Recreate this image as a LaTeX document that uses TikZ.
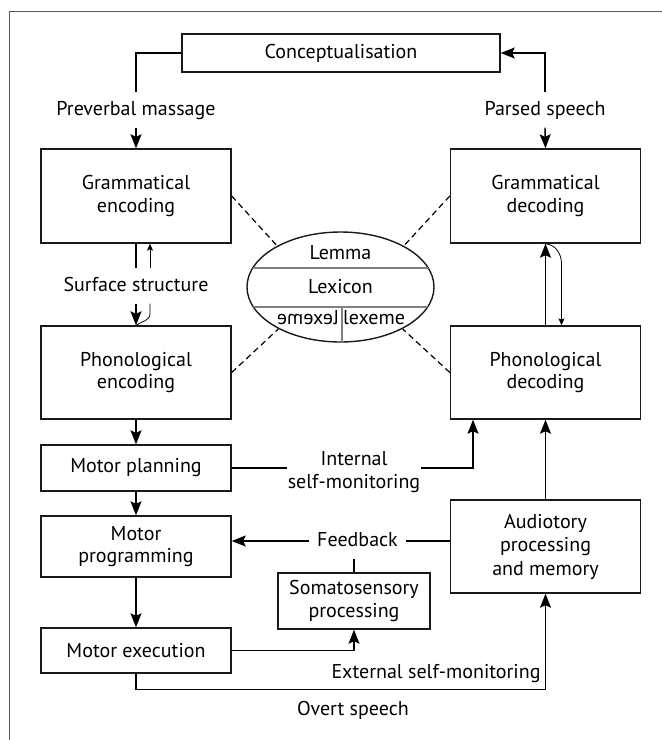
\documentclass[tikz,border=0pt]{standalone}
\usepackage{fontspec}
\setmainfont{PT Sans}
\usepackage{graphicx}
\usetikzlibrary{arrows.meta,positioning,shapes.geometric}

\begin{document}
\begin{tikzpicture}[x=1pt,y=1pt,>={Stealth[length=14pt,width=11pt,inset=2.5pt]},
  line width=1.4pt,
  box/.style={draw=black!90,line width=1.4pt,minimum width=190pt,align=center,font=\fontsize{20}{22.5}\selectfont,inner sep=0pt},
  lbl/.style={align=center,font=\fontsize{20}{22.5}\selectfont,text height=14pt,text depth=4pt,inner xsep=8pt,inner ysep=8pt},
  thinarr/.style={line width=0.8pt,-{Stealth[length=7pt,width=6pt,inset=1.5pt]}},
  thinline/.style={line width=0.8pt},
  dashline/.style={line width=1.2pt,dash pattern=on 6pt off 4pt},
  grayline/.style={line width=1.2pt,black!50},
  frame/.style={line width=1.6pt,black!65}]
\useasboundingbox (0,0) rectangle (662,-740);
\draw[frame] (9.5,-740) -- (9.5,-11.5) -- (662,-11.5);

% boxes
\node[box,minimum width=318pt,minimum height=38pt] (concept) at (341,-53) {Conceptualisation};
\node[box,minimum height=94pt] (genc) at (136,-196) {Grammatical\\encoding};
\node[box,minimum height=94pt] (gdec) at (545.5,-196) {Grammatical\\decoding};
\node[box,minimum height=93pt] (penc) at (136,-372.5) {Phonological\\encoding};
\node[box,minimum height=93pt] (pdec) at (545.5,-372.5) {Phonological\\decoding};
\node[box,minimum height=46pt] (mplan) at (136,-468) {Motor planning};
\node[box,minimum height=61pt] (mprog) at (136,-546.5) {Motor\\programming};
\node[box,minimum height=45pt] (mexec) at (136,-650.5) {Motor execution};
\node[box,minimum height=93pt,font=\fontsize{20}{23.5}\selectfont] (audit) at (545.5,-546.5) {Audiotory\\processing\\and memory};
\node[box,minimum width=152pt,minimum height=56pt] (soma) at (354,-601) {Somatosensory\\processing};
\node[box,ellipse,minimum width=187pt,minimum height=110pt] (lex) at (340.5,-287) {Lexicon};

% lexicon parts
\begin{scope}
\clip (lex.center) ellipse (93.5 and 55);
\draw[grayline] ([yshift=19pt]lex.west) -- ([yshift=19pt]lex.east);
\draw[grayline] ([yshift=-20pt]lex.west) -- ([yshift=-20pt]lex.east);
\draw[grayline] ([xshift=1.5pt,yshift=-20pt]lex.center) -- ([xshift=1.5pt]lex.south);
\end{scope}
\node[lbl] (lemma) at (340.5,-254) {Lemma};
\node[lbl] (lexl) at (308,-319) {\reflectbox{lexeme}};
\node[lbl] (lexr) at (374,-319) {lexeme};

% labels
\node[lbl] (lpre) at (136,-110) {Preverbal massage};
\node[lbl] (lpar) at (545,-110) {Parsed speech};
\node[lbl] (lsurf) at (136,-286) {Surface structure};
\node[lbl] (lfb) at (357.5,-541) {Feedback};
\node[lbl] (lext) at (436,-673) {External self-monitoring};
\node[lbl] (lovert) at (353,-710) {Overt speech};

% top
\draw (concept.west) -| (lpre.north);
\draw[->] (lpre.south) -- (genc.north);
\draw[->] (lpar.north) |- (concept.east);
\draw[->] (lpar.south) -- (gdec.north);

% encoding side
\draw (genc.south) -- (lsurf.north);
\draw[->] (lsurf.south) -- (penc.north);
\draw[thinarr] ([xshift=14pt]lsurf.north) -- ([xshift=14pt]genc.south);
\draw[thinline] (penc.north) to[out=35,in=-90] ([xshift=14pt,yshift=-10pt]lsurf.south) -- ([xshift=14pt]lsurf.south);
\draw[->] (penc.south) -- (mplan.north);
\draw[->] (mplan.south) -- (mprog.north);
\draw[->] (mprog.south) -- (mexec.north);

% decoding side
\draw[->] (pdec.north) -- (gdec.south);
\draw[thinarr] (gdec.south) to[out=-5,in=90] ([xshift=16pt,yshift=-20pt]gdec.south) -- ([xshift=16pt]pdec.north);
\draw[->] (audit.north) -- (pdec.south);

% lexicon links
\draw[dashline] (genc.east) -- (lex.147);
\draw[dashline] (gdec.west) -- (lex.33);
\draw[dashline] (penc.east) -- (lex.-146);
\draw[dashline] (pdec.west) -- (lex.-34);

% monitoring
\draw[->] (mplan.east) -| ([xshift=-72.5pt]pdec.south);
\node[align=center,font=\fontsize{20}{22.5}\selectfont,fill=white,inner sep=1pt] (lint) at (354,-472) {Internal\\self-monitoring};
\draw (audit.west |- lfb) -- (lfb.east);
\draw[->] (lfb.west) -- (mprog.east |- lfb);
\draw (lfb.south -| soma.north) -- (soma.north);
\draw[->] (mexec.east) -| (soma.south);
\draw[->] (mexec.south) -- ++(0,-16) -| (audit.south);
\end{tikzpicture}
\end{document}
